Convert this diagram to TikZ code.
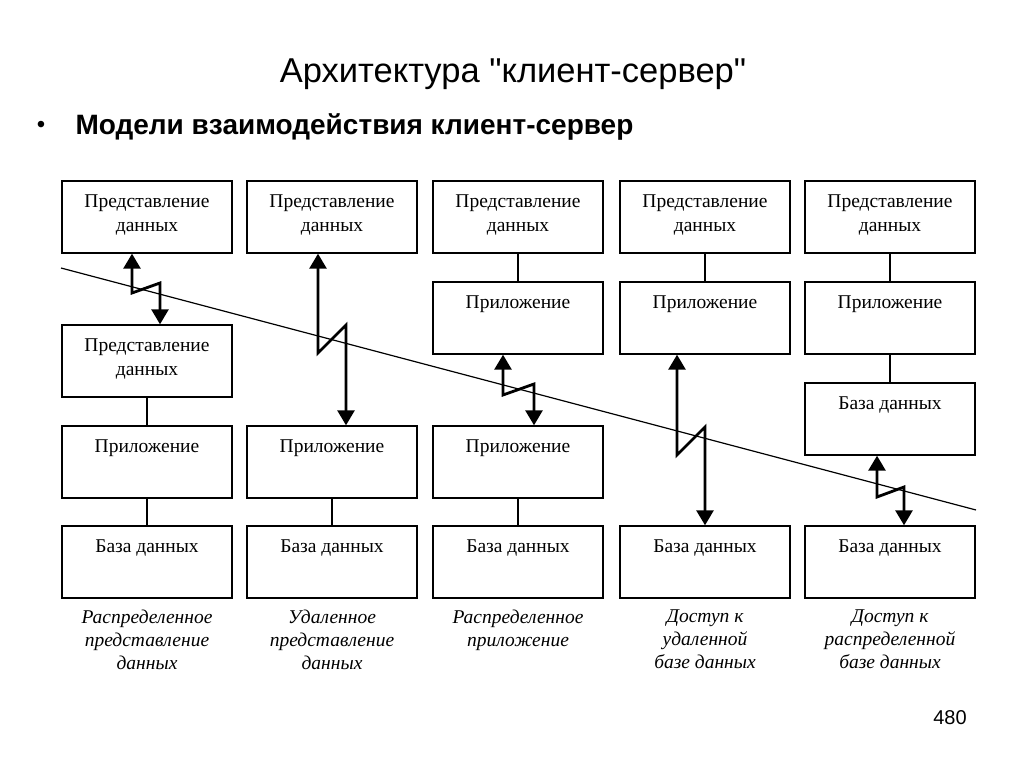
\documentclass[tikz,border=0pt]{standalone}
\usepackage{fontspec}
\setmainfont{Liberation Serif}
\newfontfamily\arialfont{Liberation Sans}
\usetikzlibrary{arrows.meta}

\begin{document}
\begin{tikzpicture}
  [x=1pt,y=-1pt,
   box/.style={draw,line width=1.4pt,minimum width=170pt,minimum height=72pt,inner sep=0pt},
   boxtext/.style={anchor=north,align=center,inner sep=0pt,yshift=-14pt,font=\fontsize{19.5}{24.5}\selectfont},
   caption/.style={anchor=north,align=center,inner sep=0pt,font=\fontsize{19.5}{23}\selectfont\itshape},
   link/.style={line width=2.6pt},
   zz/.style={line width=2.8pt,line join=miter,
     {Triangle[width=17pt,length=15pt]}-{Triangle[width=17pt,length=15pt]}}]
  \useasboundingbox (0,0) rectangle (1024,767);

  % headings
  \node[font=\arialfont\fontsize{34.5}{40}\selectfont] (title) at (513,74) {Архитектура "клиент-сервер"};
  \node[font=\arialfont\fontsize{24}{30}\selectfont] (dot) at (41,127) {•};
  \node[anchor=west,font=\arialfont\bfseries\fontsize{28}{32}\selectfont] (sub) at (72,127) {Модели взаимодействия клиент-сервер};
  \node[font=\arialfont\fontsize{20}{24}\selectfont] (page) at (950,718) {480};

  % top row
  \node[box,label={[boxtext]north:{Представление\\данных}}] (t1) at (147,217) {};
  \node[box,label={[boxtext]north:{Представление\\данных}}] (t2) at (332,217) {};
  \node[box,label={[boxtext]north:{Представление\\данных}}] (t3) at (518,217) {};
  \node[box,label={[boxtext]north:{Представление\\данных}}] (t4) at (705,217) {};
  \node[box,label={[boxtext]north:{Представление\\данных}}] (t5) at (890,217) {};
  % second row
  \node[box,label={[boxtext]north:{Представление\\данных}}] (r1) at (147,361) {};
  \node[box,label={[boxtext]north:Приложение}] (u3) at (518,318) {};
  \node[box,label={[boxtext]north:Приложение}] (u4) at (705,318) {};
  \node[box,label={[boxtext]north:Приложение}] (u5) at (890,318) {};
  \node[box,label={[boxtext]north:База данных}] (e5) at (890,419) {};
  % third row
  \node[box,label={[boxtext]north:Приложение}] (a1) at (147,462) {};
  \node[box,label={[boxtext]north:Приложение}] (a2) at (332,462) {};
  \node[box,label={[boxtext]north:Приложение}] (a3) at (518,462) {};
  % databases
  \node[box,label={[boxtext]north:База данных}] (d1) at (147,562) {};
  \node[box,label={[boxtext]north:База данных}] (d2) at (332,562) {};
  \node[box,label={[boxtext]north:База данных}] (d3) at (518,562) {};
  \node[box,label={[boxtext]north:База данных}] (d4) at (705,562) {};
  \node[box,label={[boxtext]north:База данных}] (d5) at (890,562) {};

  % captions
  \node[caption] (c1) at (147,610) {Распределенное\\представление\\данных};
  \node[caption] (c2) at (332,610) {Удаленное\\представление\\данных};
  \node[caption] (c3) at (518,610) {Распределенное\\приложение};
  \node[caption] (c4) at (705,610) {Доступ к\\удаленной\\базе данных};
  \node[caption] (c5) at (890,610) {Доступ к\\распределенной\\базе данных};

  % links inside a column
  \draw[link] (r1) -- (a1);
  \draw[link] (a1) -- (d1);
  \draw[link] (a2) -- (d2);
  \draw[link] (t3) -- (u3);
  \draw[link] (a3) -- (d3);
  \draw[link] (t4) -- (u4);
  \draw[link] (t5) -- (u5);
  \draw[link] (u5) -- (e5);

  % the cut between client and server
  \coordinate (cutA) at (61,268);
  \coordinate (cutB) at (976,510);
  \draw[line width=1.2pt] (cutA) -- (cutB);

  % network calls
  \coordinate (z1a) at (132,293); \coordinate (z1b) at (160,283);
  \coordinate (z2a) at (318,353); \coordinate (z2b) at (346,325);
  \coordinate (z3a) at (503,395); \coordinate (z3b) at (534,384);
  \coordinate (z4a) at (677,455); \coordinate (z4b) at (705,427);
  \coordinate (z5a) at (877,497); \coordinate (z5b) at (904,487);
  \draw[zz] (t1.south -| z1a) -- (z1a) -- (z1b) -- (r1.north -| z1b);
  \draw[zz] (t2.south -| z2a) -- (z2a) -- (z2b) -- (a2.north -| z2b);
  \draw[zz] (u3.south -| z3a) -- (z3a) -- (z3b) -- (a3.north -| z3b);
  \draw[zz] (u4.south -| z4a) -- (z4a) -- (z4b) -- (d4.north -| z4b);
  \draw[zz] (e5.south -| z5a) -- (z5a) -- (z5b) -- (d5.north -| z5b);
\end{tikzpicture}
\end{document}
